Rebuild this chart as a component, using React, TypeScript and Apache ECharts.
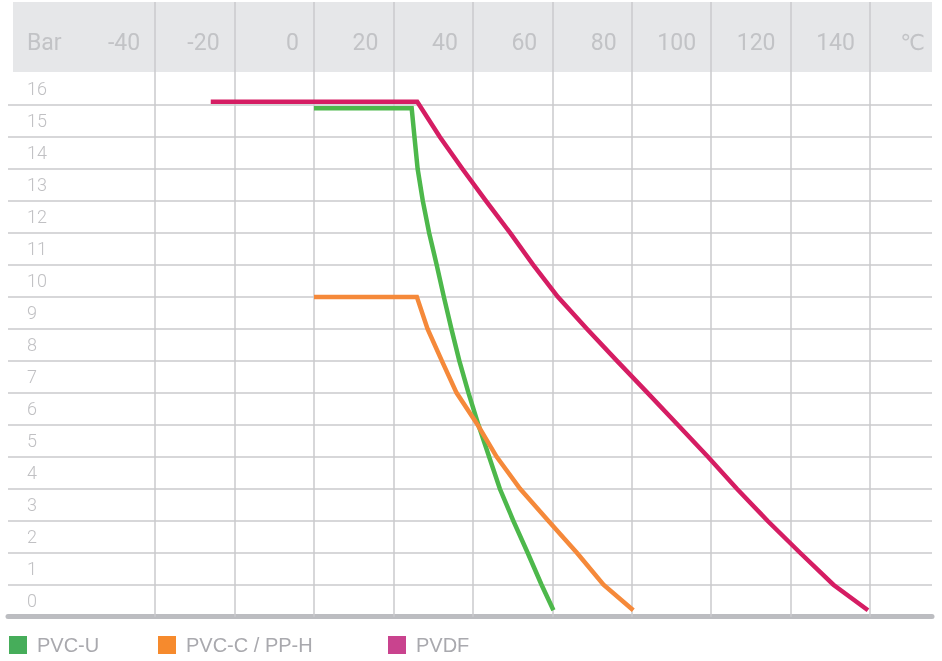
import React, { useEffect, useRef } from "react";
import * as echarts from "echarts";

// ---- data ----
const seriesNames = ["PVC-U", "PVC-C / PP-H", "PVDF"];
const tempTicks = [-40, -20, 0, 20, 40, 60, 80, 100, 120, 140];
const barTicks = [0, 1, 2, 3, 4, 5, 6, 7, 8, 9, 10, 11, 12, 13, 14, 15, 16];

const pvcuTemp = [0, 24.6, 25.3, 26.1, 27.4, 29.0, 30.9, 32.7, 34.6, 36.6, 38.9, 41.4, 44.1, 46.8, 50.2, 53.8, 57.3, 60.3];
const pvcuBar = [15.9, 15.9, 15, 14, 13, 12, 11, 10, 9, 8, 7, 6, 5, 4, 3, 2, 1, 0.2];

const pvccTemp = [0, 25.9, 28.6, 32.2, 35.9, 41.2, 46.0, 51.9, 59.0, 66.2, 72.9, 80.4];
const pvccBar = [10, 10, 9, 8, 7, 6, 5, 4, 3, 2, 1, 0.2];

const pvdfTemp = [-26, 26.0, 31.7, 37.4, 43.3, 49.4, 55.2, 61.4, 68.7, 76.3, 84.0, 91.6, 99.2, 106.5, 114.2, 122.4, 130.8, 139.5];
const pvdfBar = [16.1, 16.1, 15, 14, 13, 12, 11, 10, 9, 8, 7, 6, 5, 4, 3, 2, 1, 0.2];

const lineColors = ["#4db84b", "#f5893a", "#d51d63"];
const legendColors = ["#46ad5a", "#f68a2d", "#c9438e"];

const zip = (xs: number[], ys: number[]) => xs.map((x, i) => [x, ys[i]]);

export default function App() {
  const ref = useRef<HTMLDivElement>(null);

  useEffect(() => {
    const chart = echarts.init(ref.current!, null, { renderer: "svg" });
    const gridColor = "#cacacd";
    const labelFont = "Roboto, 'DejaVu Sans', sans-serif";
    const headerColor = "#c2c3c6";
    const legendBase = {
      orient: "horizontal",
      top: 635,
      padding: 0,
      icon: "rect",
      itemWidth: 18,
      itemHeight: 18,
      selectedMode: false,
      textStyle: {
        fontSize: 20,
        color: "#a9a9ae",
        fontFamily: "'Liberation Sans', Arial, sans-serif",
        padding: [0, 0, 0, 5],
      },
    };
    const legendLefts = [9, 158, 388];

    const option: any = {
      animation: false,
      grid: { left: 8, right: 10, top: 2, bottom: 44.3, containLabel: false, outerBoundsMode: "none" },
      graphic: [
        {
          type: "rect",
          z: 0,
          shape: { x: 13, y: 2, width: 919, height: 70 },
          style: { fill: "#e6e7e9" },
          silent: true,
        },
        {
          type: "text",
          z: 10,
          x: 27,
          y: 42,
          style: {
            text: "Bar",
            fontSize: 23,
            fontWeight: "normal",
            fontFamily: labelFont,
            fill: headerColor,
            align: "left",
            verticalAlign: "middle",
          },
          silent: true,
        },
        {
          type: "text",
          z: 10,
          x: 925,
          y: 42,
          style: {
            text: "℃",
            fontSize: 22,
            fontWeight: "normal",
            fontFamily: "'DejaVu Sans', sans-serif",
            fill: headerColor,
            align: "right",
            verticalAlign: "middle",
          },
          silent: true,
        },
      ],
      legend: seriesNames.map((name, i) => ({
        ...legendBase,
        left: legendLefts[i],
        data: [{ name, itemStyle: { color: legendColors[i] } }],
      })),
      xAxis: [
        {
          type: "value",
          min: -77.06,
          max: 155.63,
          position: "bottom",
          axisLine: { show: true, onZero: false, lineStyle: { color: "#bcbdc1", width: 5 } },
          axisTick: { show: false },
          axisLabel: { show: false },
          splitLine: { show: false },
        },
        {
          type: "value",
          min: -77.06,
          max: 155.63,
          position: "top",
          axisLine: { show: false },
          axisTick: { show: false },
          splitLine: { show: false },
          axisLabel: {
            show: true,
            inside: true,
            customValues: tempTicks,
            margin: 40,
            align: "right",
            verticalAlign: "middle",
            padding: [0, 15, 0, 0],
            fontSize: 23,
            fontWeight: "normal",
            fontFamily: labelFont,
            color: headerColor,
            formatter: (v: number) => String(v),
          },
        },
      ],
      yAxis: {
        type: "value",
        min: 0,
        max: 19.22,
        axisLine: { show: false },
        axisTick: { show: false },
        splitLine: { show: false },
        axisLabel: {
          show: true,
          inside: true,
          customValues: barTicks.map((b) => b + 0.5),
          margin: 19,
          align: "left",
          verticalAlign: "middle",
          fontSize: 18,
          fontWeight: 300,
          fontFamily: labelFont,
          color: "#c0c0c3",
          formatter: (v: number) => String(Math.round(v - 0.5)),
        },
      },
      series: [
        {
          name: "frame",
          type: "line",
          data: [],
          silent: true,
          markLine: {
            silent: true,
            symbol: ["none", "none"],
            label: { show: false },
            emphasis: { disabled: true },
            lineStyle: { color: gridColor, width: 1.5, type: "solid" },
            data: [
              ...barTicks.filter((b) => b > 0).map((b) => ({ yAxis: b })),
              ...tempTicks.map((t) => ({ xAxis: t })),
            ],
          },
        },
        ...[
          zip(pvcuTemp, pvcuBar),
          zip(pvccTemp, pvccBar),
          zip(pvdfTemp, pvdfBar),
        ].map((d, i) => ({
          name: seriesNames[i],
          type: "line",
          data: d,
          showSymbol: false,
          symbol: "none",
          z: 5,
          lineStyle: { color: lineColors[i], width: 4.5, cap: "butt", join: "miter" },
          itemStyle: { color: lineColors[i] },
        })),
      ],
    };

    chart.setOption(option);
    return () => chart.dispose();
  }, []);

  return <div ref={ref} style={{ position: "fixed", left: 0, top: 0, width: 942, height: 661 }} />;
}
